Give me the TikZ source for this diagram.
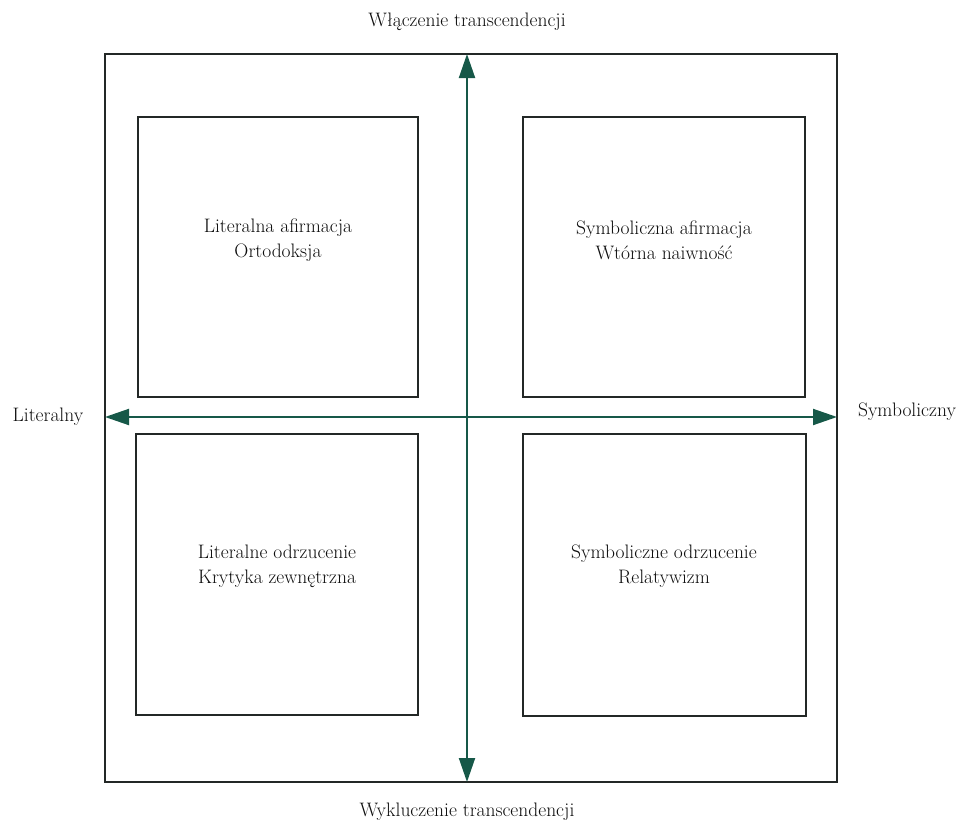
\documentclass[tikz,border=0pt]{standalone}
\usetikzlibrary{arrows.meta}
\definecolor{axisgreen}{RGB}{22,88,72}
\definecolor{linegray}{RGB}{35,40,38}
\tikzset{
  box/.style={draw=linegray, line width=1.8pt, inner sep=0pt},
  lbl/.style={font=\fontsize{19.5}{25}\selectfont, align=center, text=black!95},
  axis/.style={draw=axisgreen, line width=2pt, {Triangle[length=24pt,width=16pt]}-{Triangle[length=24pt,width=16pt]}},
}
\begin{document}
\begin{tikzpicture}[x=1pt,y=-1pt]
\useasboundingbox (0,0) rectangle (962,827);
\node[box, minimum width=732pt, minimum height=728pt] (frame) at (471,418) {};
\node[box, minimum width=280pt, minimum height=280pt] (tl) at (278,257) {};
\node[box, minimum width=282pt, minimum height=280pt] (tr) at (664,257) {};
\node[box, minimum width=282pt, minimum height=281pt] (bl) at (277,574.5) {};
\node[box, minimum width=283pt, minimum height=282pt] (br) at (664.5,575) {};
\coordinate (top) at (467,54);
\coordinate (bottom) at (467,782);
\coordinate (left) at (105,417);
\coordinate (right) at (837,417);
\draw[axis] (bottom) -- (top);
\draw[axis] (left) -- (right);
\node[lbl] (t1) at (278,240) {Literalna afirmacja\\Ortodoksja};
\node[lbl] (t2) at (664,240) {Symboliczna afirmacja\\Wtórna naiwność};
\node[lbl] (t3) at (277,566) {Literalne odrzucenie\\Krytyka zewnętrzna};
\node[lbl] (t4) at (664,566) {Symboliczne odrzucenie\\Relatywizm};
\node[lbl] (n) at (467,22) {Włączenie transcendencji};
\node[lbl] (s) at (467,812) {Wykluczenie transcendencji};
\node[lbl] (w) at (48,417) {Literalny};
\node[lbl] (e) at (907,412) {Symboliczny};
\end{tikzpicture}
\end{document}
